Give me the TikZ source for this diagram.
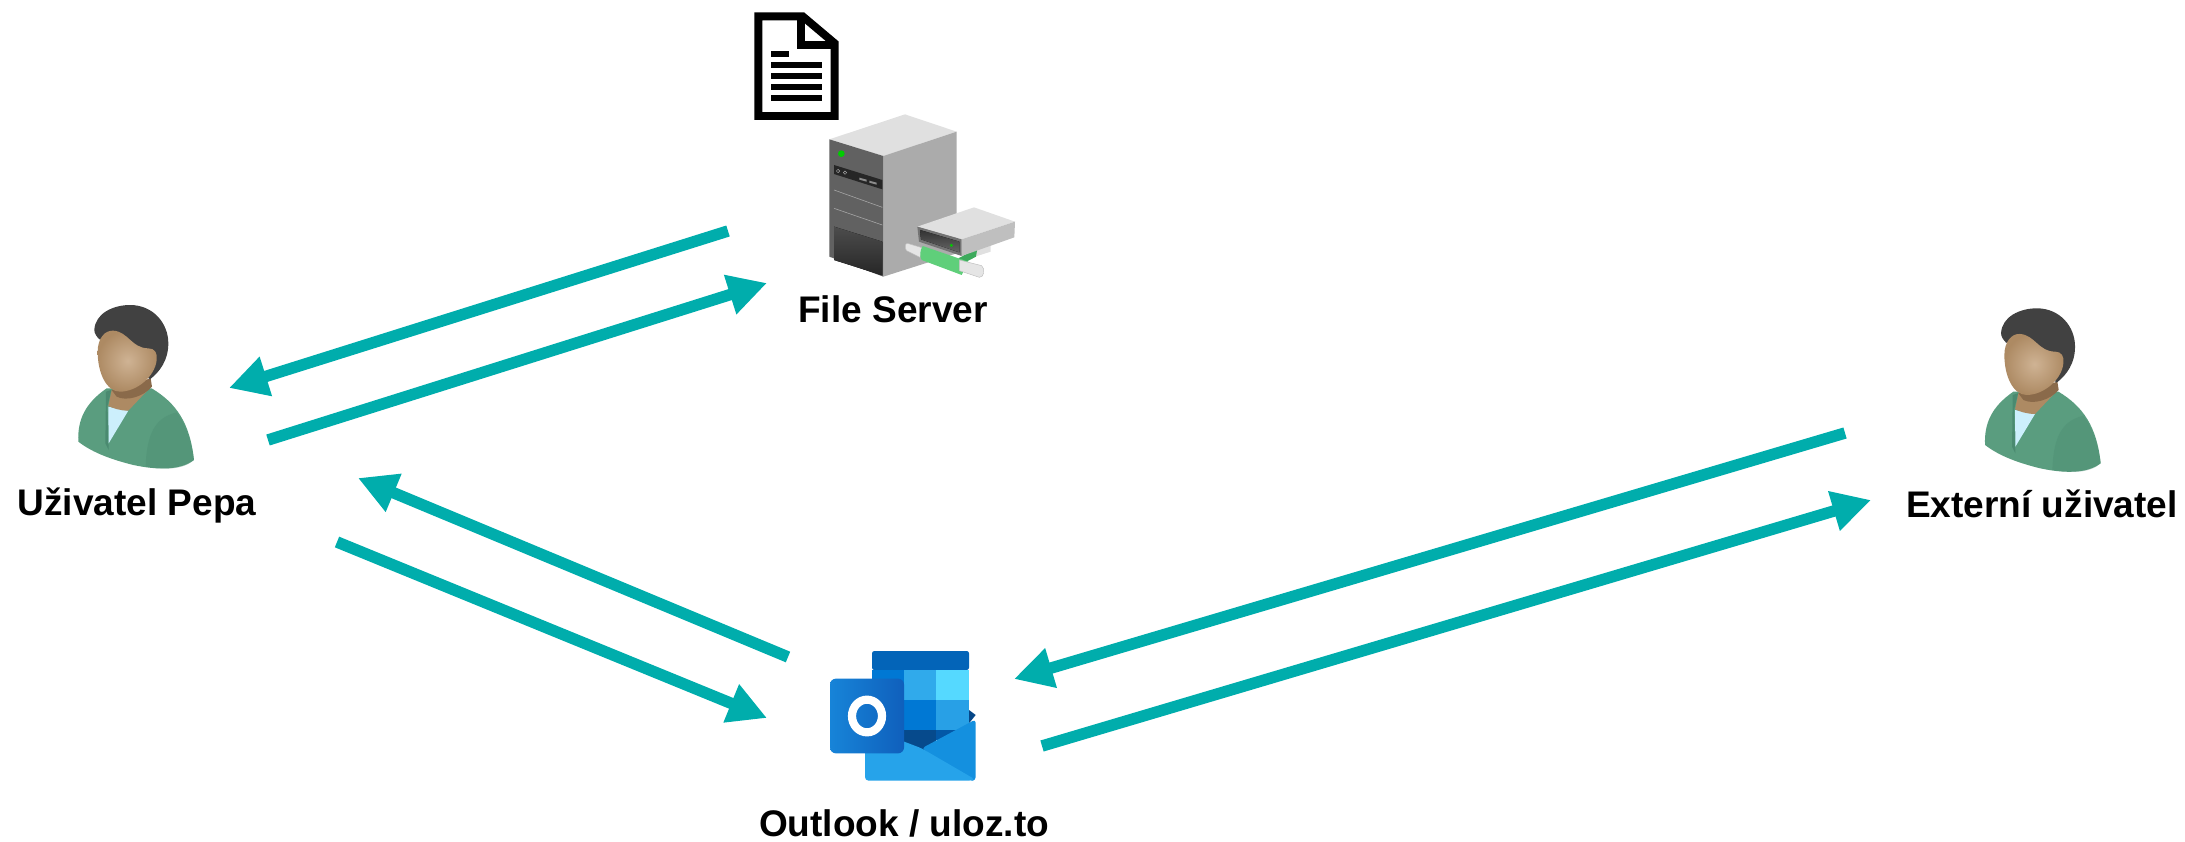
\documentclass[tikz,border=0pt]{standalone}
\usepackage{fontspec}
\setmainfont{Liberation Sans}
\usetikzlibrary{arrows.meta}
\definecolor{flowc}{HTML}{00ADAC}
\definecolor{shirt}{HTML}{5A9D7F}
\definecolor{shirtd}{HTML}{4A8A70}
\definecolor{skin}{HTML}{AD8A63}
\definecolor{skinl}{HTML}{CFB394}
\definecolor{skind}{HTML}{8A6A4A}
\definecolor{hair}{HTML}{414141}
\definecolor{tube}{HTML}{5FCF7A}
\definecolor{tubed}{HTML}{3DAA5C}
\definecolor{olkl}{HTML}{1784D8}
\definecolor{olkd}{HTML}{0F5FBC}
\tikzset{
  flow/.style={flowc, line width=9.8pt, -{Triangle[length=33pt,width=33pt]}},
  lbl/.style={anchor=base, font=\bfseries\fontsize{31.6}{36}\selectfont, inner sep=0pt},
  pics/person/.style={code={
    % body
    \fill[shirt] (235,485) .. controls (232,420) and (255,370) .. (320,325) -- (455,325)
      .. controls (530,370) and (570,430) .. (582,540) .. controls (540,572) and (470,570) .. (400,555)
      .. controls (340,540) and (280,520) .. (235,485) -- cycle;
    \fill[shirtd,opacity=.35] (530,397) .. controls (480,410) and (440,440) .. (437,560)
      .. controls (490,570) and (550,570) .. (582,540) .. controls (575,480) and (555,430) .. (530,397) -- cycle;
    \fill[shirtd] (318,335) -- (334,330) -- (322,380) -- (326,510) -- (316,490) -- cycle;
    % collar and neck
    \fill[white!80!cyan] (325,380) -- (385,392) -- (326,490) -- cycle;
    \fill[skin] (335,330) -- (455,318) -- (385,392) .. controls (360,392) and (340,385) .. (325,378) -- cycle;
    \fill[skind] (335,330) -- (452,295) -- (456,320) .. controls (430,350) and (380,365) .. (350,350) -- cycle;
    % hair and face
    \fill[hair] (283,150) .. controls (285,100) and (340,75) .. (390,75) .. controls (460,75) and (505,130) .. (505,190)
      .. controls (505,240) and (480,275) .. (450,298) -- (380,240) -- (340,185) -- (298,178)
      .. controls (290,170) and (283,160) .. (283,150) -- cycle;
    \shade[inner color=skinl, outer color=skin] (293,215) .. controls (293,175) and (315,150) .. (340,152)
      .. controls (385,155) and (395,205) .. (445,205) .. controls (465,205) and (473,220) .. (470,240)
      .. controls (465,290) and (410,335) .. (360,335) .. controls (320,335) and (293,280) .. (293,215) -- cycle;
  }}
}
\begin{document}
\begin{tikzpicture}[x=0.03cm,y=-0.03cm]
\useasboundingbox (0,0) rectangle (2185,842);
% end points of the arrows
\coordinate (srvout) at (728,231);
\coordinate (pepain) at (229,388);
\coordinate (pepaout) at (268,440);
\coordinate (srvin) at (767,283);
\coordinate (olkout) at (788,657);
\coordinate (pepain2) at (358,478);
\coordinate (pepaout2) at (337,542);
\coordinate (olkin) at (767,718);
\coordinate (extout) at (1845,433);
\coordinate (olkin2) at (1014,679);
\coordinate (olkout2) at (1042,746);
\coordinate (extin) at (1871,500);
\foreach \a/\b in {srvout/pepain,pepaout/srvin,olkout/pepain2,pepaout2/olkin,extout/olkin2,olkout2/extin}
  \draw[flow] (\a)--(\b);
% people
\pic[scale=1/3] (pepa) at (0,280) {person};
\pic[scale=1/3] (ext) at (1906.7,283.3) {person};
\node[lbl] (pepalbl) at (137,515) {Uživatel Pepa};
\node[lbl] (extlbl) at (2042,517) {Externí uživatel};
% document
\begin{scope}[shift={(720,0)},scale=1/3]
\draw[black,line width=6.8pt,fill=white,miter limit=4] (115,49) -- (248,49) -- (344,130) -- (344,348) -- (115,348) -- cycle;
\draw[black,line width=6.8pt] (242,49) -- (242,134) -- (344,134);
\fill (153,153) rectangle (207,171);
\foreach \y in {186,219,252,285}
  \fill (152,\y) rectangle (307,\y+17);
% server
\fill[black!12] (328,418) -- (555,343) -- (710,395) -- (490,468) -- cycle;
\fill[black!33] (490,468) -- (710,395) -- (710,760) -- (490,830) -- cycle;
\fill[black!62] (328,418) -- (490,468) -- (490,830) -- (328,770) -- cycle;
\fill[top color=black!70, bottom color=black!85] (342,680) -- (487,725) -- (487,826) -- (342,780) -- cycle;
\fill[black!85] (342,495) -- (487,540) -- (487,568) -- (342,522) -- cycle;
\draw[black!35,line width=.5pt] (342,570) -- (487,622) (342,625) -- (487,675);
\fill[green!80!black] (364,461) circle (10);
\draw[black!35,line width=.4pt] (354,513) circle (5) (375,518) circle (5);
\fill[black!45] (418,533) -- (440,539) -- (440,545) -- (418,539) -- cycle (448,542) -- (470,548) -- (470,554) -- (448,548) -- cycle;
% drive
\fill[black!12] (720,760) -- (812,735) -- (812,755) -- (740,778) -- cycle;
\fill[black!10,draw=black!25,line width=.4pt] (562,730) -- (612,745) -- (600,772) -- (560,752) .. controls (553,745) and (555,730) .. (562,730) -- cycle;
\fill[tubed] (715,775) -- (772,745) -- (768,770) -- (730,790) -- cycle;
\fill[tube] (608,738) -- (745,785) -- (725,825) -- (605,780) .. controls (598,770) and (600,750) .. (608,738) -- cycle;
\fill[black!10,draw=black!25,line width=.4pt] (718,780) -- (785,797) .. controls (797,808) and (792,832) .. (778,832) -- (718,812) -- cycle;
\fill[black!12] (592,680) -- (762,622) -- (885,665) -- (725,718) -- cycle;
\fill[black!25] (725,718) -- (885,665) -- (883,712) -- (725,768) -- cycle;
\fill[black!55] (592,680) -- (725,718) -- (725,768) -- (597,725) -- cycle;
\fill[top color=black!80, bottom color=black!60] (600,690) -- (718,725) -- (718,757) -- (603,718) -- cycle;
\fill[green!80!black] (694,736) circle (5);
\end{scope}
\node[lbl] (srvlbl) at (893,322) {File Server};
% outlook
\begin{scope}[shift={(740,620)},scale=1/3]
\fill[rounded corners=2pt,fill={rgb,255:red,3;green,100;blue,184}] (396,93) rectangle (687,150);
\fill[fill={rgb,255:red,0;green,120;blue,212}] (396,150) rectangle (492,240);
\fill[fill={rgb,255:red,48;green,170;blue,235}] (492,150) rectangle (589,240);
\fill[fill={rgb,255:red,85;green,217;blue,255}] (589,150) rectangle (687,240);
\fill[fill={rgb,255:red,0;green,120;blue,212}] (396,240) rectangle (589,330);
\fill[fill={rgb,255:red,40;green,160;blue,230}] (589,240) rectangle (687,330);
\fill[fill={rgb,255:red,6;green,74;blue,140}] (396,330) rectangle (589,400);
\fill[fill={rgb,255:red,3;green,88;blue,167}] (589,330) rectangle (687,360);
\fill[fill={rgb,255:red,5;green,70;blue,135}] (687,270) -- (707,285) -- (687,310) -- cycle;
\fill[fill={rgb,255:red,20;green,144;blue,223},rounded corners=3pt] (707,298) -- (707,482) -- (690,482) -- (545,385) -- cycle;
\fill[fill={rgb,255:red,38;green,163;blue,234},rounded corners=3pt] (375,320) -- (545,385) -- (705,478) -- (695,482) -- (375,482) -- cycle;
\shade[left color=olkl,right color=olkd,rounded corners=5pt] (270,176) rectangle (492,400);
\draw[white,line width=7pt] (381,288) ellipse (45 and 49);
\end{scope}
\node[lbl] (olklbl) at (904,836) {Outlook / uloz.to};
\end{tikzpicture}
\end{document}
